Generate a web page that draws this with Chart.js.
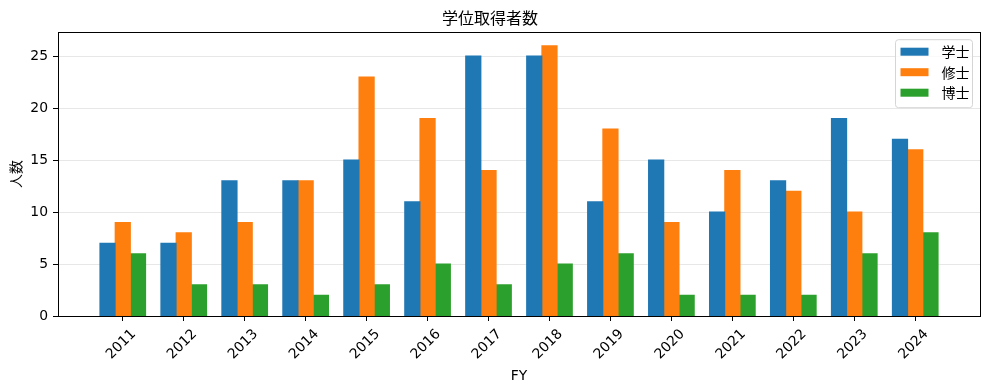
<!DOCTYPE html>
<html>
<head>
<meta charset="utf-8">
<script src="https://cdn.jsdelivr.net/npm/chart.js@4"></script>
<style>
  body { margin: 0; background: #fff; }
  #wrap { width: 989px; height: 390px; }
</style>
</head>
<body>
<div id="wrap"><canvas id="myChart" width="989" height="390"></canvas></div>
<script>
const years = ['2011', '2012', '2013', '2014', '2015', '2016', '2017', '2018', '2019', '2020', '2021', '2022', '2023', '2024'];
const bachelor = [7, 7, 13, 13, 15, 11, 25, 25, 11, 15, 10, 13, 19, 17];
const master = [9, 8, 9, 13, 23, 19, 14, 26, 18, 9, 14, 12, 10, 16];
const doctor = [6, 3, 3, 2, 3, 5, 3, 5, 6, 2, 2, 2, 6, 8];
const seriesNames = ['学士', '修士', '博士'];
const yTicks = [0, 5, 10, 15, 20, 25];

const cjk = '"Noto Sans CJK JP", "DejaVu Sans", sans-serif';
const latin = '"DejaVu Sans", sans-serif';

function points(values) {
  return values.map(function(v, i) { return { x: i, y: v }; });
}

// frame round the plot area (top and right spines)
const framePlugin = {
  id: 'frame',
  afterDatasetsDraw(chart) {
    const a = chart.chartArea;
    const ctx = chart.ctx;
    ctx.save();
    ctx.strokeStyle = '#000';
    ctx.lineWidth = 1;
    ctx.strokeRect(Math.round(a.left) + 0.5, Math.round(a.top) + 0.5,
      Math.round(a.right - a.left), Math.round(a.bottom - a.top));
    ctx.restore();
  }
};

// matplotlib style legend in the upper right corner
const legendPlugin = {
  id: 'mplLegend',
  afterDraw(chart) {
    const a = chart.chartArea;
    const ctx = chart.ctx;
    const w = 77, h = 68;
    const x = a.right - 7.5 - w, y = a.top + 7.5;
    ctx.save();
    ctx.beginPath();
    ctx.roundRect(x, y, w, h, 3);
    ctx.fillStyle = 'rgba(255,255,255,0.8)';
    ctx.fill();
    ctx.strokeStyle = '#d5d5d5';
    ctx.lineWidth = 1;
    ctx.stroke();
    ctx.font = '14px ' + cjk;
    ctx.textBaseline = 'middle';
    chart.data.datasets.forEach(function(ds, i) {
      const cy = y + 12 + i * 20.5;
      ctx.fillStyle = ds.backgroundColor;
      ctx.fillRect(x + 5, cy - 4, 28, 8);
      ctx.fillStyle = '#000';
      ctx.fillText(ds.label, x + 46, cy);
    });
    ctx.restore();
  }
};

const ctx = document.getElementById('myChart').getContext('2d');
new Chart(ctx, {
  type: 'bar',
  data: {
    datasets: [
      { label: seriesNames[0], data: points(bachelor), backgroundColor: '#1f77b4' },
      { label: seriesNames[1], data: points(master), backgroundColor: '#ff7f0e' },
      { label: seriesNames[2], data: points(doctor), backgroundColor: '#2ca02c' }
    ]
  },
  options: {
    responsive: false,
    animation: false,
    layout: { padding: { left: 0, right: 9, top: 0, bottom: 0 } },
    datasets: {
      bar: { categoryPercentage: 0.75, barPercentage: 1.0, borderWidth: 0, inflateAmount: 0.5 }
    },
    plugins: {
      legend: { display: false },
      tooltip: { enabled: false },
      title: {
        display: true,
        text: '学位取得者数',
        color: '#000',
        font: { family: cjk, size: 16, weight: 'normal' },
        padding: { top: 8, bottom: 5 }
      }
    },
    scales: {
      x: {
        type: 'linear',
        offset: false,
        min: -1.0625,
        max: 14.0625,
        afterBuildTicks: function(scale) {
          scale.ticks = years.map(function(_, i) { return { value: i }; });
        },
        afterFit: function(scale) { scale.height = 74; },
        ticks: {
          autoSkip: false,
          minRotation: 45,
          maxRotation: 45,
          labelOffset: 11,
          padding: 5,
          color: '#000',
          font: { family: latin, size: 13.9 },
          callback: function(v) { return years[v]; }
        },
        grid: {
          offset: false,
          drawOnChartArea: false,
          drawTicks: true,
          tickLength: 5,
          tickColor: '#000',
          color: 'rgba(0,0,0,0)'
        },
        border: { display: true, color: '#000', width: 1 },
        title: {
          display: true,
          text: 'FY',
          color: '#000',
          font: { family: latin, size: 13.9 },
          padding: { top: 4, bottom: 5 }
        }
      },
      y: {
        min: 0,
        max: 27.3,
        z: 1,
        afterBuildTicks: function(scale) {
          scale.ticks = yTicks.map(function(v) { return { value: v }; });
        },
        afterFit: function(scale) { scale.width = 58; },
        ticks: {
          padding: 5,
          color: '#000',
          font: { family: latin, size: 13.9 }
        },
        grid: {
          drawTicks: true,
          tickLength: 5,
          tickColor: '#000',
          color: 'rgba(176,176,176,0.3)',
          lineWidth: 1
        },
        border: { display: true, color: '#000', width: 1 },
        title: {
          display: true,
          text: '人数',
          color: '#000',
          font: { family: cjk, size: 13.9 },
          padding: { top: 7, bottom: 4 }
        }
      }
    }
  },
  plugins: [framePlugin, legendPlugin]
});
</script>
</body>
</html>
